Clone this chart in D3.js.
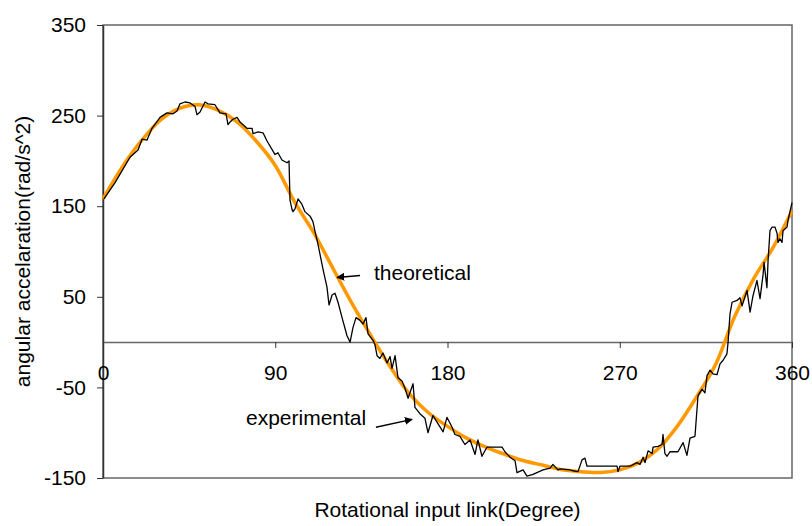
<!DOCTYPE html>
<html>
<head>
<meta charset="utf-8">
<script src="https://cdn.jsdelivr.net/npm/d3@7"></script>
<style>
  body { margin: 0; background: #fff; }
  svg { font-family: Arial, "Liberation Sans", sans-serif; }
</style>
</head>
<body>
<svg width="812" height="526"></svg>
<script>
// theoretical curve, read every 10 degrees
const theoDeg = [0,10,20,30,40,50,60,70,80,90,100,110,120,130,140,150,160,170,180,
  190,200,210,220,230,240,250,260,270,280,290,300,310,320,330,340,350,360];
const theoVal = [158,193,222,245,258,262,256,243,222,195,155,121,82,43,7,-27,-57,-78,-93,
  -106,-116,-124,-131,-136,-141,-143,-144,-141,-133,-118,-93,-61,-25,28,70,104,145];

// experimental trace
const expDeg = [0.5,6.3,14.1,18.3,20.4,23.0,25.6,29.8,33.4,36.6,38.7,40.2,42.8,45.5,48.1,49.1,50.7,
  53.3,54.9,58.5,61.1,64.3,65.3,66.4,67.9,70.0,71.6,75.2,77.9,78.4,81.0,83.6,85.7,89.9,91.4,93.5,
  96.1,97.2,97.7,98.8,99.3,100.3,101.9,104.0,105.5,108.2,109.7,110.8,111.8,112.9,115.0,117.0,118.1,
  119.7,121.2,122.8,124.9,127.5,129.1,130.6,132.2,134.3,135.9,137.4,138.5,141.1,142.1,143.2,144.7,
  146.3,148.4,150.0,151.0,152.6,154.1,156.2,157.8,159.4,162.0,163.0,165.6,168.2,169.8,172.4,175.0,
  177.7,179.7,182.4,183.9,186.5,189.1,191.8,194.4,195.9,198.0,200.6,204.8,208.5,210.0,212.7,215.3,
  216.3,219.5,221.5,224.7,229.9,233.6,235.1,237.7,238.8,244.0,245.6,248.2,250.3,251.8,252.9,259.7,
  262.3,268.6,269.1,270.1,275.4,279.0,280.6,282.2,283.2,284.8,286.9,287.4,290.0,292.1,292.6,293.6,
  294.7,296.3,300.4,303.1,305.1,306.7,309.3,310.9,313.0,314.5,315.6,317.2,318.7,320.8,322.4,324.0,
  326.0,326.6,327.6,328.7,331.3,332.8,333.9,336.5,338.1,339.6,341.7,343.3,344.9,345.4,346.9,347.5,
  348.5,349.6,351.1,352.2,352.7,353.7,354.8,355.3,357.4,357.9,360];
const expVal = [158,176,204,212,224,223,236,248,253,252,255,263,265,264,260,251,254,
  265,263,262,253,252,240,243,246,248,243,236,236,230,232,231,222,207,209,201,
  198,200,157,146,144,147,158,152,144,139,133,122,113,102,80,61,41,
  52,54,44,27,7,0,16,27,24,20,27,9,2,-3,-15,-18,
  -12,-23,-16,-29,-15,-39,-43,-51,-62,-46,-72,-79,-84,-100,-81,-90,
  -99,-83,-94,-102,-104,-113,-108,-124,-108,-126,-116,-116,-116,-121,-127,-131,
  -144,-141,-148,-146,-141,-139,-135,-141,-140,-141,-142,-143,-130,-128,-137,-137,
  -137,-137,-143,-137,-137,-133,-135,-127,-133,-120,-123,-116,-115,-113,-102,-123,
  -126,-121,-121,-111,-125,-106,-104,-59,-52,-56,-37,-31,-35,-36,-24,-20,
  -13,0,31,44,46,49,40,57,33,51,68,48,75,88,60,90,
  123,127,127,120,110,114,110,123,127,134,154];

const yTicks = [350, 250, 150, 50, -50, -150];
const xTicks = [0, 90, 180, 270, 360];

const margin = {top: 25, right: 20, bottom: 48, left: 103};
const width = 812 - margin.left - margin.right;
const height = 526 - margin.top - margin.bottom;

const svg = d3.select("svg");
const g = svg.append("g")
    .attr("transform", "translate(" + margin.left + "," + margin.top + ")");

const x = d3.scaleLinear().domain([0, 360]).range([0, width]);
const y = d3.scaleLinear().domain([-150, 350]).range([height, 0]);

// plot frame
g.append("rect")
    .attr("width", width).attr("height", height)
    .attr("fill", "none").attr("stroke", "#666").attr("stroke-width", 1.5);

// y axis
const yAxis = g.append("g")
    .call(d3.axisLeft(y).tickValues(yTicks).tickFormat(d => String(d))
      .tickSize(6).tickPadding(11).tickSizeOuter(0));
yAxis.select(".domain").attr("stroke", "#333").attr("stroke-width", 1.5);
yAxis.selectAll(".tick line").attr("stroke", "#333");
yAxis.selectAll("text").attr("font-size", 21).attr("fill", "#000");

// x axis on the zero line
const xAxis = g.append("g")
    .attr("transform", "translate(0," + y(0) + ")")
    .call(d3.axisBottom(x).tickValues(xTicks).tickFormat(d => String(d))
      .tickSize(6).tickPadding(17).tickSizeOuter(0));
xAxis.select(".domain").attr("stroke", "#666").attr("stroke-width", 1.5);
xAxis.selectAll(".tick line").attr("stroke", "#333");
xAxis.selectAll("text").attr("font-size", 21).attr("fill", "#000");

const theo = theoDeg.map((d, i) => [d, theoVal[i]]);
const expt = expDeg.map((d, i) => [d, expVal[i]]);

g.append("path")
    .datum(theo)
    .attr("fill", "none")
    .attr("stroke", "#ff9900")
    .attr("stroke-width", 3.5)
    .attr("d", d3.line().x(d => x(d[0])).y(d => y(d[1])).curve(d3.curveCatmullRom));

g.append("path")
    .datum(expt)
    .attr("fill", "none")
    .attr("stroke", "#000")
    .attr("stroke-width", 1.3)
    .attr("stroke-linejoin", "round")
    .attr("d", d3.line().x(d => x(d[0])).y(d => y(d[1])));

// annotations
svg.append("defs").append("marker")
    .attr("id", "head")
    .attr("viewBox", "0 0 10 10")
    .attr("refX", 9).attr("refY", 5)
    .attr("markerWidth", 8).attr("markerHeight", 8)
    .attr("markerUnits", "userSpaceOnUse")
    .attr("orient", "auto")
  .append("path")
    .attr("d", "M0,0L10,5L0,10z")
    .attr("fill", "#000");

const notes = [
  {text: "theoretical", tx: 141.6, ty: 69, from: [134.3, 73.6], to: [122.3, 71.4]},
  {text: "experimental", tx: 74.7, ty: -91.9, from: [142.6, -94.1], to: [161.5, -85.3]}
];
notes.forEach(n => {
  g.append("text")
      .attr("x", x(n.tx)).attr("y", y(n.ty))
      .attr("font-size", 21)
      .text(n.text);
  g.append("line")
      .attr("x1", x(n.from[0])).attr("y1", y(n.from[1]))
      .attr("x2", x(n.to[0])).attr("y2", y(n.to[1]))
      .attr("stroke", "#000").attr("stroke-width", 1.5)
      .attr("marker-end", "url(#head)");
});

// axis titles
svg.append("text")
    .attr("x", margin.left + width / 2).attr("y", 517)
    .attr("text-anchor", "middle")
    .attr("font-size", 21)
    .text("Rotational input link(Degree)");

svg.append("text")
    .attr("transform", "translate(30," + (margin.top + height / 2) + ") rotate(-90)")
    .attr("text-anchor", "middle")
    .attr("font-size", 21)
    .text("angular accelaration(rad/s^2)");
</script>
</body>
</html>
